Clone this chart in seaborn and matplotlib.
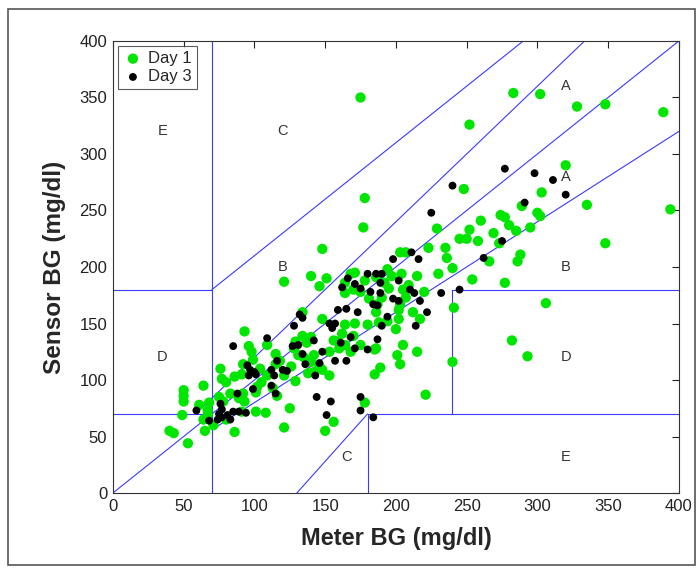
import matplotlib
matplotlib.use("Agg")
import matplotlib.pyplot as plt
import seaborn as sns
import pandas as pd
from matplotlib.patches import Rectangle

# Meter vs sensor glucose readings (mg/dl)
day1_meter = [175, 283, 302, 328, 348, 389, 252, 320, 394, 335, 303, 248, 178, 177, 348, 306,
              282, 293, 240, 241, 221, 148, 121,
              274, 277, 280, 285, 260, 269, 295, 300, 302, 289, 252, 245, 250, 258, 229, 223,
              235, 236, 240, 230, 254, 266, 273, 288, 286, 277, 215, 209, 220, 203, 207, 194,
              204, 197, 192, 195, 205, 207, 203, 202, 212, 217, 202, 200, 205, 201, 203, 215,
              189, 185, 185, 178, 156, 150, 153, 148, 125, 121,
              168, 171, 178, 186, 164, 164, 170, 175, 181, 190, 187, 186, 194, 188, 180, 171,
              164, 162, 170, 156, 159, 175, 168, 160, 186, 151, 140, 146, 134, 134, 137, 129,
              128, 131, 135, 140, 142, 146, 138, 129, 121, 126, 118, 115, 115, 109, 96, 93,
              98, 99, 92, 91, 86, 104, 109, 105, 113, 116, 101, 92, 83, 75, 78, 76, 77, 80,
              93, 91, 101, 108, 86, 80, 64, 50, 50, 50, 49, 61, 68, 67, 64, 65, 71, 40, 43,
              53, 67, 89, 102, 142, 153, 164, 140, 148]
day1_sensor = [350, 354, 353, 342, 344, 337, 326, 290, 251, 255, 266, 269, 261, 235, 221, 168,
               135, 121, 116, 164, 87, 216, 187,
               246, 244, 237, 232, 241, 230, 235, 248, 245, 254, 233, 225, 225, 223, 234, 217,
               217, 208, 199, 194, 189, 205, 221, 211, 205, 186, 192, 184, 178, 213, 213, 198,
               194, 192, 186, 181, 180, 173, 167, 162, 160, 154, 154, 145, 131, 122, 114, 125,
               111, 105, 127, 80, 63, 55, 104, 109, 75, 58,
               194, 195, 188, 191, 186, 177, 180, 178, 172, 173, 167, 160, 152, 151, 149, 150,
               149, 141, 139, 135, 134, 131, 125, 128, 128, 190, 192, 183, 160, 139, 133, 134,
               128, 122, 120, 116, 122, 112, 106, 99, 104, 112, 117, 114, 123, 131, 130, 143,
               125, 118, 114, 105, 103, 110, 104, 98, 93, 86, 89, 88, 88, 85, 81, 110, 101, 98,
               81, 72, 72, 71, 54, 65, 95, 91, 86, 81, 69, 78, 80, 73, 65, 55, 60, 55, 53,
               44, 69, 84, 94, 107, 125, 131, 138, 154]

day3_meter = [277, 298, 311, 320, 291, 240, 225, 275, 262, 245, 232, 211, 216, 198, 202, 210,
              213, 217, 198, 202, 222, 214, 194, 190, 189, 186, 180, 190, 171, 175, 182, 189,
              166, 162, 165, 159, 173, 184, 187, 153, 155, 157, 161, 168, 171, 180, 187, 165,
              157, 148, 146, 142, 136, 134, 128, 132, 134, 127, 131, 143, 144, 154, 151, 175,
              175, 184, 109, 85, 116, 112, 120, 123, 114, 112, 115, 95, 97, 100, 101, 96, 99,
              88, 76, 77, 75, 77, 81, 85, 89, 94, 83, 74, 68, 59]
day3_sensor = [287, 283, 277, 264, 257, 272, 248, 223, 208, 180, 177, 213, 207, 207, 188, 180,
               177, 170, 172, 170, 160, 148, 156, 148, 186, 194, 194, 194, 185, 181, 178, 177,
               190, 182, 163, 162, 160, 167, 166, 150, 146, 150, 133, 138, 128, 127, 136, 117,
               117, 125, 115, 135, 114, 123, 148, 158, 155, 130, 131, 104, 85, 81, 69, 85,
               73, 67, 137, 130, 117, 109, 109, 108, 104, 95, 88, 113, 109, 107, 105, 104, 92,
               88, 79, 74, 70, 67, 69, 72, 72, 71, 65, 65, 64, 73]

series_names = ["Day 1", "Day 3"]
series_colors = ["#00e600", "black"]

# Zone labels of the Clarke error grid: (meter, sensor, letter)
zone_x = [320, 320, 320, 120, 120, 165, 35, 320, 35, 320]
zone_y = [360, 280, 200, 200, 320, 32, 120, 120, 320, 32]
zone_txt = ["A", "A", "B", "B", "C", "C", "D", "D", "E", "E"]

df = pd.DataFrame({
    "meter": day1_meter + day3_meter,
    "sensor": day1_sensor + day3_sensor,
    "day": [series_names[0]] * len(day1_meter) + [series_names[1]] * len(day3_meter),
})

sns.set_style("white")
plt.rcParams["font.family"] = ["Liberation Sans", "DejaVu Sans"]

fig = plt.figure(figsize=(6.97, 5.71), dpi=100)
ax = fig.add_axes([0.162, 0.1366, 0.812, 0.7916])

# Grid boundaries
grid_col = "#3a3aff"
segments = [
    ([0, 400], [0, 400]),
    ([0, 70], [70, 70]),
    ([175 / 3, 400 / 1.2], [70, 400]),
    ([70, 70], [0, 400]),
    ([0, 70], [180, 180]),
    ([70, 290], [180, 400]),
    ([70, 400], [56, 320]),
    ([180, 180], [0, 70]),
    ([180, 400], [70, 70]),
    ([240, 240], [70, 180]),
    ([240, 400], [180, 180]),
    ([130, 180], [0, 70]),
]
for xs, ys in segments:
    ax.plot(xs, ys, color=grid_col, lw=0.8, zorder=1)

sns.scatterplot(data=df[df["day"] == series_names[0]], x="meter", y="sensor",
                color=series_colors[0], s=55, edgecolor="none", ax=ax, zorder=3,
                label=series_names[0])
sns.scatterplot(data=df[df["day"] == series_names[1]], x="meter", y="sensor",
                color=series_colors[1], s=32, edgecolor="none", ax=ax, zorder=4,
                label=series_names[1])

for zx, zy, zt in zip(zone_x, zone_y, zone_txt):
    ax.text(zx, zy, zt, ha="center", va="center", fontsize=10.5, color="#333333")

ax.set_xlim(0, 400)
ax.set_ylim(0, 400)
ax.set_xticks(range(0, 401, 50))
ax.set_yticks(range(0, 401, 50))
ax.tick_params(direction="in", length=5, width=0.8, top=True, right=True,
               labelsize=12, colors="#222222", pad=4)
for sp in ax.spines.values():
    sp.set_color("#333333")
    sp.set_linewidth(0.8)
ax.set_xlabel("Meter BG (mg/dl)", fontsize=17, fontweight="bold", labelpad=10)
ax.set_ylabel("Sensor BG (mg/dl)", fontsize=17.5, fontweight="bold", labelpad=10)

leg = ax.legend(loc="upper left", frameon=True, fontsize=12, borderaxespad=0.3,
                handletextpad=0.3, borderpad=0.3, labelspacing=0.2, handlelength=1.2,
                fancybox=False, edgecolor="#333333")
leg.get_frame().set_linewidth(0.8)

# Outer frame around the figure
fig.patches.append(Rectangle((0.012, 0.01), 0.985, 0.975, transform=fig.transFigure,
                             fill=False, edgecolor="#555555", lw=1.2))

fig.savefig("out.png", dpi=100)
